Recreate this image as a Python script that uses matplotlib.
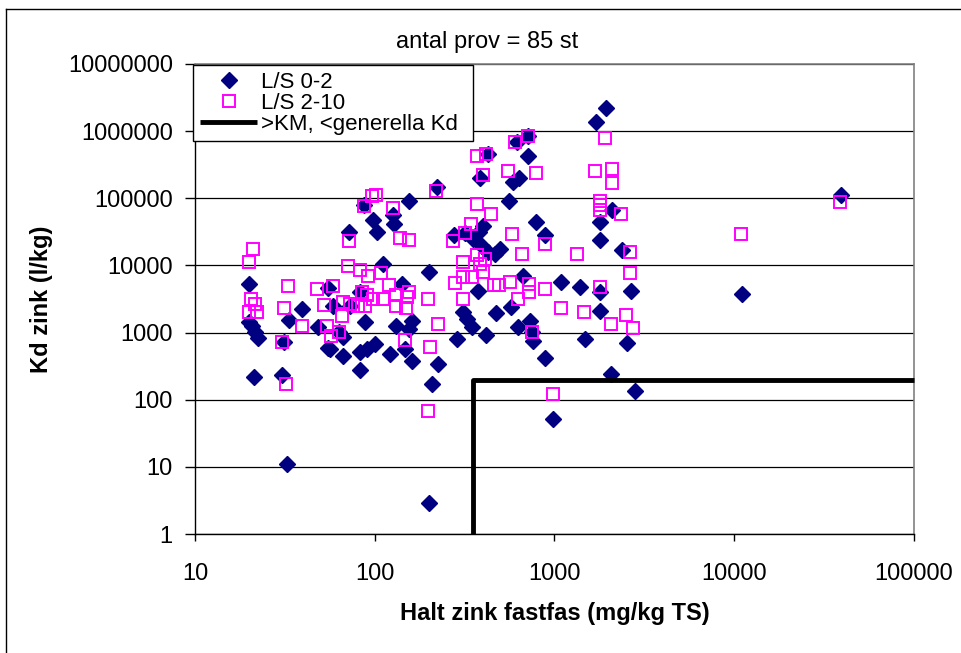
import matplotlib.pyplot as plt
from matplotlib.ticker import FixedLocator, FuncFormatter, NullLocator
from matplotlib.lines import Line2D

plt.rcParams['font.family'] = ['Liberation Sans', 'DejaVu Sans']

# L/S 0-2 (diamonds)
ls02_halt = [20, 20, 20.7, 21.5, 22.4, 21.3, 30.4, 31.2, 33.3, 32.4, 39.3, 48.2, 54.8, 54.8,
             58.4, 63.1, 66.4, 56.2, 66.4, 71.7, 72.6, 82.5, 82.5, 90.3, 100, 82.5, 86.9, 97.5,
             103, 111, 88, 121, 126, 128, 132, 141, 147, 156, 161, 156, 161, 200, 207, 200,
             221, 224, 275, 316, 286, 308, 324, 346, 350, 378, 398, 393, 424, 464, 495, 373,
             414, 470, 383, 424, 584, 631, 555, 615, 708, 708, 784, 891, 664, 570, 623, 726,
             745, 755, 891, 1090, 987, 1390, 1780, 1800, 1470, 1710, 1940, 2100, 1800, 1800,
             2360, 2680, 2540, 2070, 2820, 11070, 39300]
ls02_kd = [5300, 1440, 1260, 1020, 830, 216, 232, 720, 1540, 11, 2260, 1210, 4660, 590,
           2500, 1020, 850, 570, 446, 32000, 2500, 4050, 513, 568, 675, 275, 79000, 47000,
           31000, 10600, 1440, 478, 56000, 42000, 1260, 5340, 568, 90000, 1490, 1130, 376, 8070, 170, 2.9,
           146000, 339, 28000, 30000, 802, 2030, 1600, 1210, 25000, 32000, 39000, 19800, 16100, 15000, 17800, 4200,
           920, 1960, 199000, 456000, 174000, 199000, 90000, 690000, 850000, 425000, 45000, 28000, 7030, 2420, 1210, 1490,
           1020, 749, 417, 5720, 51, 4820, 4050, 2110, 802, 1370000, 2220000, 66000, 45000, 24000,
           16700, 4200, 699, 240, 134, 3800, 111000]

# L/S 2-10 (open squares)
ls210_halt = [21, 20, 20.5, 21.5, 20, 22.1, 32.9, 31.2, 30.4, 32, 39.3, 47.6, 52.1, 54.1, 57,
              58.4, 63.1, 65.6, 66.4, 70.8, 71.7, 72.6, 80.5, 82.5, 84.7, 86.9, 88, 90.3, 91.5,
              96.2, 101, 97.5, 109, 111, 120, 126, 131, 132, 139, 147, 149, 152, 155, 156, 197,
              197, 202, 218, 224, 271, 278, 308, 308, 308, 316, 341, 346, 369, 369, 369, 383,
              398, 398, 408, 414, 441, 458, 489, 548, 562, 577, 600, 623, 656, 708, 717, 717,
              745, 784, 880, 880, 975, 1080, 1340, 1450, 1690, 1780, 1780, 1780, 1780, 1920,
              2050, 2100, 2100, 2330, 2510, 2640, 2640, 2750, 10940, 38800]
ls210_kd = [17300, 11400, 3190, 2680, 2030, 2030, 4990, 2340, 723, 170, 1260, 4500, 2590, 1260, 889,
            4990, 1020, 1770, 2870, 9930, 23000, 2680, 2500, 8650, 4050, 76000, 2500, 3660, 7030,
            107000, 111000, 3190, 7800, 3190, 5160, 71000, 3660, 2500, 26000, 775, 2340, 3410, 24000, 4050, 3190,
            69, 609, 127000, 1350, 23000, 5530, 11400, 6800, 3190, 30000, 41000, 6800, 425000, 81000, 14500, 10600,
            8070, 221000, 12600, 456000, 58000, 5160, 5160, 254000, 5720, 29000, 690000, 3190, 15000, 850000, 5340, 4050,
            1020, 237000, 21000, 4500, 120, 2340, 15000, 2030, 254000, 90000, 79000, 66000, 4820, 790000,
            1350, 272000, 168000, 58000, 1830, 16100, 7800, 1170, 29000, 87000]

# >KM, <generella Kd boundary
limit_halt = [350, 350, 100000]
limit_kd = [1, 200, 200]

fig = plt.figure(figsize=(9.62, 6.53), dpi=100)
ax = fig.add_axes([0.2027, 0.1822, 0.7474, 0.7198])
ax.set_xscale('log')
ax.set_yscale('log')

d_line, = ax.plot(ls02_halt, ls02_kd, 'D', color='#000080', ms=8, mec='#000080', zorder=3)
s_line, = ax.plot(ls210_halt, ls210_kd, 's', mfc='none', mec='#FF00FF', ms=8, mew=1.4, zorder=4)
l_line, = ax.plot(limit_halt, limit_kd, color='black', lw=3.5, solid_capstyle='butt', zorder=5, clip_on=False)

ax.set_xlim(10, 100000)
ax.set_ylim(1, 10000000)

ax.xaxis.set_major_locator(FixedLocator([10, 100, 1000, 10000, 100000]))
ax.yaxis.set_major_locator(FixedLocator([1, 10, 100, 1000, 10000, 100000, 1000000, 10000000]))
ax.xaxis.set_minor_locator(NullLocator())
ax.yaxis.set_minor_locator(NullLocator())
fmt = FuncFormatter(lambda v, p: '%d' % round(v))
ax.xaxis.set_major_formatter(fmt)
ax.yaxis.set_major_formatter(fmt)

ax.yaxis.grid(True, color='black', lw=0.9)
ax.set_axisbelow(True)
for side in ['top', 'right']:
    ax.spines[side].set_color('#808080')
    ax.spines[side].set_linewidth(1.2)
for side in ['left', 'bottom']:
    ax.spines[side].set_color('black')
    ax.spines[side].set_linewidth(1)

ax.tick_params(axis='x', direction='out', length=5, width=1, pad=16, labelsize=17)
ax.tick_params(axis='y', direction='out', length=7, width=1, pad=9, labelsize=17)

ax.set_xlabel('Halt zink fastfas (mg/kg TS)', fontsize=17, fontweight='bold')
ax.xaxis.set_label_coords(0.5, -0.145)
ax.set_ylabel('Kd zink (l/kg)', fontsize=17, fontweight='bold')
ax.yaxis.set_label_coords(-0.198, 0.5)

fig.text(0.506, 0.935, 'antal prov = 85 st', ha='center', va='center', fontsize=17)

leg = ax.legend([d_line, s_line, l_line], ['L/S 0-2', 'L/S 2-10', '>KM, <generella Kd'],
                loc='upper left', bbox_to_anchor=(0.2006, 0.1807, 0.291, 0.7198),
                bbox_transform=fig.transFigure, mode='expand',
                fontsize=16, labelspacing=0.0, handlelength=2.6, handletextpad=0.15,
                borderpad=0.3, borderaxespad=0, fancybox=False, framealpha=1,
                edgecolor='black')
leg.get_frame().set_linewidth(1)
leg.set_zorder(10)

# outer chart border
fig.add_artist(Line2D([6 / 962, 1], [1 - 9 / 653, 1 - 9 / 653], color='black', lw=1))
fig.add_artist(Line2D([6 / 962, 6 / 962], [0, 1 - 9 / 653], color='black', lw=1))

fig.savefig('out.png', dpi=100)
